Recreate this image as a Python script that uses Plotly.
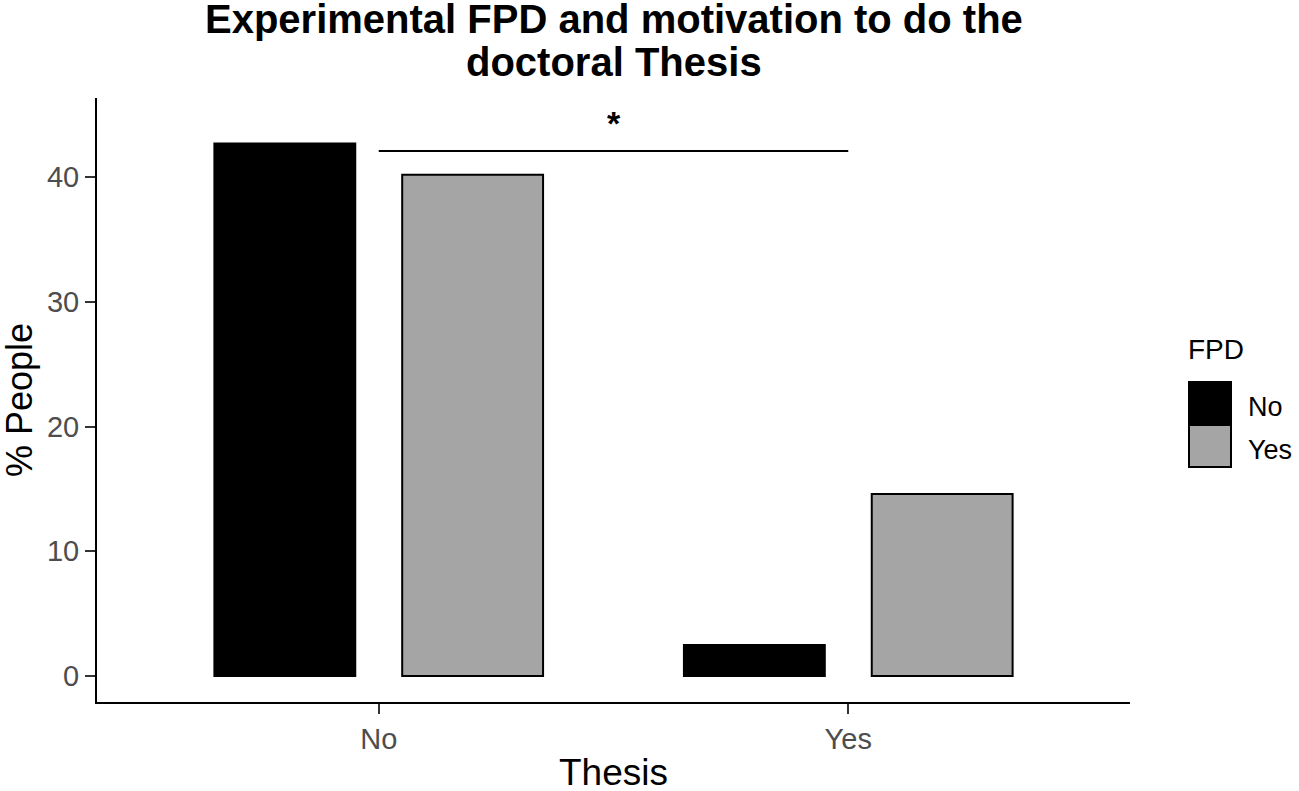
import plotly.graph_objects as go

# ---- data ----
thesis = ["No", "Yes"]
fpd_groups = ["No", "Yes"]
pct_fpd_no = [42.7, 2.5]
pct_fpd_yes = [40.2, 14.6]
sig_pair = ["No", "Yes"]
sig_y = 42.1
sig_label = "<b>*</b>"
y_ticks = [0, 10, 20, 30, 40]
title_lines = ["Experimental FPD and motivation to do the", "doctoral Thesis"]
x_title = "Thesis"
y_title = "% People"
legend_title = "FPD"

W, H = 1299, 791
L, R, T, B = 97, 169, 98, 89
PW, PH = W - L - R, H - T - B

def px_x(x):
    """page pixel x -> paper coordinate"""
    return (x - L) / PW

def px_y(y):
    """page pixel y -> paper coordinate"""
    return 1 - (y - T) / PH

FONT = "Liberation Sans, Arial, sans-serif"
colors = {"No": "#000000", "Yes": "#A5A5A5"}

fig = go.Figure()
for grp, vals in zip(fpd_groups, [pct_fpd_no, pct_fpd_yes]):
    fig.add_trace(go.Bar(
        x=thesis, y=vals, name=grp,
        marker=dict(color=colors[grp], line=dict(color="#000000", width=2)),
        showlegend=False,
    ))

# significance bracket
fig.add_shape(type="line", xref="x", yref="y",
              x0=thesis.index(sig_pair[0]), x1=thesis.index(sig_pair[1]),
              y0=sig_y, y1=sig_y, line=dict(color="#000000", width=2))
fig.add_annotation(x=(thesis.index(sig_pair[0]) + thesis.index(sig_pair[1])) / 2,
                   y=sig_y + 0.6, xref="x", yref="y", text=sig_label, showarrow=False,
                   yanchor="bottom", font=dict(family=FONT, size=34, color="#000000"))

# title (two lines, as separate annotations for tight line spacing)
for line, yc in zip(title_lines, [19, 62]):
    fig.add_annotation(xref="paper", yref="paper", x=0.5, y=px_y(yc),
                       xanchor="center", yanchor="middle", showarrow=False,
                       text="<b>" + line + "</b>",
                       font=dict(family=FONT, size=40, color="#000000"))

# axis titles
fig.add_annotation(xref="paper", yref="paper", x=0.5, y=px_y(772),
                   xanchor="center", yanchor="middle", showarrow=False, text=x_title,
                   font=dict(family=FONT, size=37, color="#000000"))
fig.add_annotation(xref="paper", yref="paper", x=px_x(19), y=0.5, textangle=-90,
                   xanchor="center", yanchor="middle", showarrow=False, text=y_title,
                   font=dict(family=FONT, size=36, color="#000000"))

# custom legend (ggplot-style large keys)
fig.add_annotation(xref="paper", yref="paper", x=px_x(1186), y=px_y(349),
                   xanchor="left", yanchor="middle", showarrow=False, text=legend_title,
                   font=dict(family=FONT, size=28, color="#000000"))
key_tops = [382, 425]
for grp, top in zip(fpd_groups, key_tops):
    fig.add_shape(type="rect", xref="paper", yref="paper",
                  x0=px_x(1189), x1=px_x(1231), y0=px_y(top), y1=px_y(top + 42),
                  fillcolor=colors[grp], line=dict(color="#000000", width=2))
    fig.add_annotation(xref="paper", yref="paper", x=px_x(1246), y=px_y(top + 25),
                       xanchor="left", yanchor="middle", showarrow=False, text=grp,
                       font=dict(family=FONT, size=27, color="#000000"))

fig.update_layout(
    width=W, height=H,
    margin=dict(l=L, r=R, t=T, b=B, autoexpand=False),
    paper_bgcolor="white", plot_bgcolor="white",
    barmode="group", bargap=0.2, bargroupgap=0.25,
    font=dict(family=FONT),
    xaxis=dict(
        range=[-0.6, 1.6], showline=True, linecolor="#000000", linewidth=2,
        ticks="outside", ticklen=10, tickwidth=2, tickcolor="#333333",
        tickfont=dict(family=FONT, size=29, color="#4D4D4D"),
        showgrid=False, zeroline=False, automargin=False,
    ),
    yaxis=dict(
        range=[-2.08, 46.35], showline=True, linecolor="#000000", linewidth=2,
        tickvals=y_ticks, ticks="outside", ticklen=10, tickwidth=2, tickcolor="#333333",
        tickfont=dict(family=FONT, size=29, color="#4D4D4D"),
        showgrid=False, zeroline=False, automargin=False,
    ),
)

fig.write_html("out.html",
               config={"displayModeBar": False},
               post_script="document.body.style.margin='0';document.body.style.overflow='hidden';")
